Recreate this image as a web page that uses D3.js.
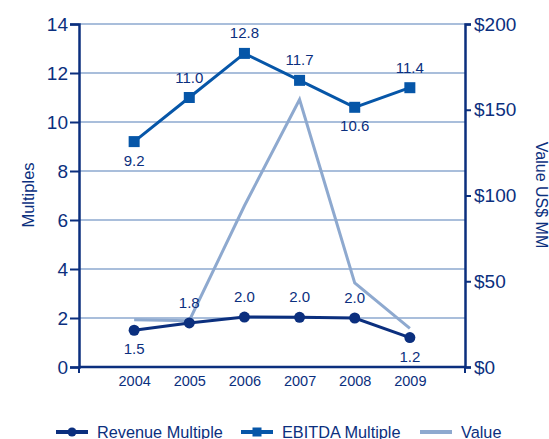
<!DOCTYPE html>
<html>
<head>
<meta charset="utf-8">
<script src="https://cdn.jsdelivr.net/npm/d3@7"></script>
<style>
  html, body { margin: 0; padding: 0; background: #fff; }
  svg { display: block; font-family: "Liberation Sans", Arial, sans-serif; }
</style>
</head>
<body>
<svg id="chart" width="549" height="439"></svg>
<script>
// Deal multiples and value by year
const years = [2004, 2005, 2006, 2007, 2008, 2009];
const revenueMultiple = [1.5, 1.8, 2.04, 2.03, 2.0, 1.2];
const ebitdaMultiple = [9.2, 11.0, 12.8, 11.7, 10.6, 11.4];
const dealValue = [27.5, 27, 94, 156, 49, 22.5];
const leftTicks = [0, 2, 4, 6, 8, 10, 12, 14];
const rightTicks = [0, 50, 100, 150, 200];
// label placement: true = above the point
const revenueLabelAbove = [false, true, true, true, true, false];
const ebitdaLabelAbove = [false, true, true, true, false, true];

const NAVY = "#0b2f7e";
const EBITDA = "#0656a8";
const VALUE = "#8ea9cf";
const GRID = "#a9bedb";

const svg = d3.select("#chart");
const plotLeft = 79, plotRight = 465, plotTop = 24, plotBottom = 367;

const x = d3.scaleLinear().domain([2003, 2010]).range([plotLeft, plotRight]);
const yL = d3.scaleLinear().domain([0, 14]).range([plotBottom, plotTop]);
const yR = d3.scaleLinear().domain([0, 200]).range([plotBottom, plotTop]);

// horizontal gridlines
svg.append("g")
  .selectAll("line")
  .data(leftTicks.filter(d => d > 0))
  .join("line")
  .attr("x1", plotLeft).attr("x2", plotRight)
  .attr("y1", d => yL(d)).attr("y2", d => yL(d))
  .attr("stroke", GRID).attr("stroke-width", 2);

// left axis
const axL = svg.append("g")
  .attr("transform", `translate(${plotLeft},0)`)
  .call(d3.axisLeft(yL).tickValues(leftTicks).tickSize(9).tickPadding(2).tickFormat(d3.format("d")));
// right axis
const axR = svg.append("g")
  .attr("transform", `translate(${plotRight},0)`)
  .call(d3.axisRight(yR).tickValues(rightTicks).tickSize(6).tickPadding(3).tickFormat(d => "$" + d));
// bottom axis with year labels
const axB = svg.append("g")
  .attr("transform", `translate(0,${plotBottom})`)
  .call(d3.axisBottom(x).tickValues(years).tickSize(0).tickPadding(9).tickFormat(d3.format("d")));

[axL, axR, axB].forEach(g => {
  g.select(".domain").attr("stroke", NAVY).attr("stroke-width", 2.5);
  g.selectAll(".tick line").attr("stroke", NAVY).attr("stroke-width", 2);
  g.selectAll(".tick text").attr("fill", NAVY).attr("font-family", "Liberation Sans, Arial, sans-serif");
});
axL.selectAll(".tick text").attr("font-size", 19);
axR.selectAll(".tick text").attr("font-size", 19);
axB.selectAll(".tick text").attr("font-size", 14.5);
axB.select(".domain").attr("d", `M${plotLeft},0H${plotRight}`);

// end ticks below the baseline
svg.append("g")
  .selectAll("line")
  .data([2003, 2010])
  .join("line")
  .attr("x1", d => x(d)).attr("x2", d => x(d))
  .attr("y1", plotBottom).attr("y2", plotBottom + 6)
  .attr("stroke", NAVY).attr("stroke-width", 2);

// axis titles
svg.append("text")
  .attr("transform", `translate(34,195) rotate(-90)`)
  .attr("text-anchor", "middle")
  .attr("font-size", 16.5).attr("fill", NAVY)
  .text("Multiples");
svg.append("text")
  .attr("transform", `translate(535.5,195) rotate(90)`)
  .attr("text-anchor", "middle")
  .attr("font-size", 16).attr("fill", NAVY)
  .text("Value US$ MM");

// value line (right axis)
svg.append("path")
  .datum(years.map((yr, i) => [x(yr), yR(dealValue[i])]))
  .attr("d", d3.line())
  .attr("fill", "none").attr("stroke", VALUE).attr("stroke-width", 3);

// EBITDA multiple line
svg.append("path")
  .datum(years.map((yr, i) => [x(yr), yL(ebitdaMultiple[i])]))
  .attr("d", d3.line())
  .attr("fill", "none").attr("stroke", EBITDA).attr("stroke-width", 3);
svg.append("g")
  .selectAll("rect")
  .data(years)
  .join("rect")
  .attr("x", (d, i) => x(d) - 5.5).attr("y", (d, i) => yL(ebitdaMultiple[i]) - 5.5)
  .attr("width", 11).attr("height", 11)
  .attr("fill", EBITDA);

// revenue multiple line
svg.append("path")
  .datum(years.map((yr, i) => [x(yr), yL(revenueMultiple[i])]))
  .attr("d", d3.line())
  .attr("fill", "none").attr("stroke", NAVY).attr("stroke-width", 3);
svg.append("g")
  .selectAll("circle")
  .data(years)
  .join("circle")
  .attr("cx", d => x(d)).attr("cy", (d, i) => yL(revenueMultiple[i]))
  .attr("r", 5.5)
  .attr("fill", NAVY);

// data labels
const fmt = d3.format(".1f");
function labels(values, above) {
  svg.append("g")
    .selectAll("text")
    .data(years)
    .join("text")
    .attr("x", d => x(d))
    .attr("y", (d, i) => yL(values[i]) + (above[i] ? -15 : 24))
    .attr("text-anchor", "middle")
    .attr("font-size", 15).attr("fill", NAVY)
    .text((d, i) => fmt(values[i]));
}
labels(ebitdaMultiple, ebitdaLabelAbove);
labels(revenueMultiple, revenueLabelAbove);

// legend
const legend = svg.append("g").attr("transform", "translate(0,432)");
const items = [
  { name: "Revenue Multiple", color: NAVY, marker: "circle", x: 56 },
  { name: "EBITDA Multiple", color: EBITDA, marker: "square", x: 241 },
  { name: "Value", color: VALUE, marker: null, x: 420 }
];
items.forEach(it => {
  const g = legend.append("g").attr("transform", `translate(${it.x},0)`);
  g.append("line").attr("x1", 0).attr("x2", 32).attr("y1", 0).attr("y2", 0)
    .attr("stroke", it.color).attr("stroke-width", 4);
  if (it.marker === "circle") {
    g.append("circle").attr("cx", 16).attr("cy", 0).attr("r", 4.5).attr("fill", it.color);
  } else if (it.marker === "square") {
    g.append("rect").attr("x", 11.5).attr("y", -4.5).attr("width", 9).attr("height", 9).attr("fill", it.color);
  }
  g.append("text").attr("x", 41).attr("y", 5.5)
    .attr("font-size", 16.3).attr("fill", NAVY)
    .text(it.name);
});
</script>
</body>
</html>
